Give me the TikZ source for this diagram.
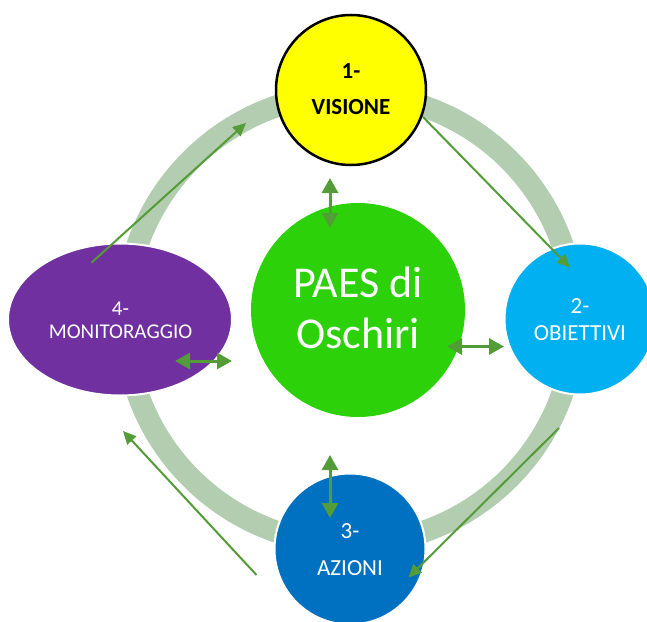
\documentclass[tikz,border=0pt]{standalone}
\usepackage{fontspec}
\setmainfont{Carlito}
\usetikzlibrary{arrows.meta,shapes.geometric}
\definecolor{ringgreen}{RGB}{179,205,176}
\definecolor{arrowgreen}{RGB}{84,156,56}
\definecolor{visyellow}{RGB}{255,255,0}
\definecolor{paesgreen}{RGB}{44,209,10}
\definecolor{objblue}{RGB}{0,176,240}
\definecolor{monpurple}{RGB}{112,48,160}
\definecolor{azblue}{RGB}{0,112,192}
\begin{document}
\begin{tikzpicture}[x=1pt,y=-1pt,
  phase/.style={circle, inner sep=0pt, draw=white, line width=2pt},
  lbl/.style={anchor=base, inner sep=0pt, text=white, font=\fontsize{23}{27}\selectfont},
  flow/.style={draw=arrowgreen, line width=2pt, -{Triangle[length=13pt,width=12pt]}},
  link/.style={draw=arrowgreen, line width=3pt, {Triangle[length=15pt,width=16pt]}-{Triangle[length=15pt,width=16pt]}}]
\useasboundingbox (0,0) rectangle (647,621);

% cycle ring behind the phases
\draw[ringgreen, line width=22pt] (350,319) circle[radius=225pt];

% phases
\node[phase, fill=visyellow, draw=black, line width=2.5pt, minimum size=150pt] (vis) at (351,90) {};
\node[phase, fill=objblue, minimum size=151pt] (obj) at (580,319) {};
\node[phase, fill=azblue, minimum size=151pt] (az) at (350,549) {};
\node[ellipse, inner sep=0pt, fill=monpurple, draw=white, line width=2pt,
      minimum width=224pt, minimum height=152pt] (mon) at (120,319.5) {};
\node[circle, inner sep=0pt, fill=paesgreen, minimum size=214pt] (paes) at (358,310) {};

% labels
\node[lbl, text=black, font=\fontsize{23}{27}\selectfont\bfseries] (visA) at (351,78) {1-};
\node[lbl, text=black, font=\fontsize{23}{27}\selectfont\bfseries] (visB) at (351,114) {VISIONE};
\node[lbl] (objA) at (580,313) {2-};
\node[lbl] (objB) at (580,340) {OBIETTIVI};
\node[lbl] (azA) at (350,538) {3-};
\node[lbl] (azB) at (350,575) {AZIONI};
\node[lbl, font=\fontsize{21}{25}\selectfont] (monA) at (120.5,315) {4-};
\node[lbl, font=\fontsize{21}{25}\selectfont] (monB) at (120.5,338) {MONITORAGGIO};
\node[lbl, font=\fontsize{44}{52}\selectfont] (paesA) at (358,297) {PAES di};
\node[lbl, font=\fontsize{44}{52}\selectfont] (paesB) at (358,348) {Oschiri};

% cycle arrows
\coordinate (fa1) at (91.7,262.5);  \coordinate (fa2) at (246,123);
\coordinate (fb1) at (423,117);     \coordinate (fb2) at (570,267.5);
\coordinate (fc1) at (559,428);     \coordinate (fc2) at (408.5,577.5);
\coordinate (fd1) at (256.5,575);   \coordinate (fd2) at (123,431);
\draw[flow] (fa1) -- (fa2);
\draw[flow] (fb1) -- (fb2);
\draw[flow] (fc1) -- (fc2);
\draw[flow] (fd1) -- (fd2);

% links between the plan and each phase
\coordinate (la1) at (330,178);   \coordinate (la2) at (330,228);
\coordinate (lb1) at (447,346.5); \coordinate (lb2) at (504,346.5);
\coordinate (lc1) at (330,455);   \coordinate (lc2) at (330,518);
\coordinate (ld1) at (175,361);   \coordinate (ld2) at (232,361);
\draw[link] (la1) -- (la2);
\draw[link] (lb1) -- (lb2);
\draw[link] (lc1) -- (lc2);
\draw[link] (ld1) -- (ld2);
\end{tikzpicture}
\end{document}
